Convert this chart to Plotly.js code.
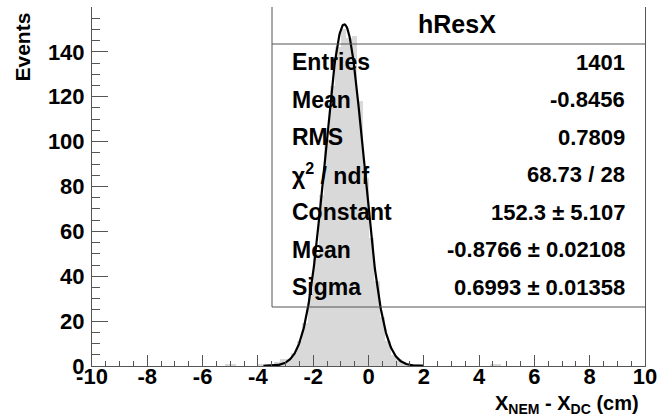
<!DOCTYPE html>
<html>
<head>
<meta charset="utf-8">
<script src="https://cdn.plot.ly/plotly-3.0.1.min.js"></script>
<style>html,body{margin:0;padding:0;background:#fff;}#chart{width:659px;height:419px;}</style>
</head>
<body>
<div id="chart"></div>
<script>
// Histogram bins (width 0.2 cm)
const binCenters = [-5.1, -4.9, -3.9, -3.7, -3.5, -3.3, -3.1, -2.9, -2.7, -2.5, -2.3, -2.1, -1.9, -1.7, -1.5, -1.3, -1.1, -0.9, -0.7, -0.5, -0.3, -0.1, 0.1, 0.3, 0.5, 0.7, 0.9, 1.1, 1.3, 1.5, 1.7, 1.9, 4.5, 4.7];
const binCounts  = [1, 1, 1, 1, 1, 2, 3, 3, 6, 11, 19, 32, 50, 76, 101, 125, 142, 150, 146, 147, 118, 84, 57, 38, 22, 11, 5, 3, 2, 1, 1, 1, 1, 1];
const binWidth = 0.2;

// Gaussian fit parameters shown in the stats box: Constant, Mean, Sigma
const fitParams = [152.3, -0.8766, 0.6993];
const fitRange = [-3.8, 2.0];

// Stats box contents
const statsTitle = "hResX";
const statsLabels = ["Entries", "Mean", "RMS", "χ<sup>2</sup> / ndf", "Constant", "Mean", "Sigma"];
const statsValues = ["1401", "-0.8456", "0.7809", "68.73 / 28", "152.3 ± 5.107", "-0.8766 ± 0.02108", "0.6993 ± 0.01358"];

// Axes
const xTicks = [-10, -8, -6, -4, -2, 0, 2, 4, 6, 8, 10];
const yTicks = [0, 20, 40, 60, 80, 100, 120, 140];

// fit curve sampled from the fit function
const fitX = [], fitY = [];
for (let i = 0; i <= 300; i++) {
  const x = fitRange[0] + (fitRange[1] - fitRange[0]) * i / 300;
  fitX.push(x);
  fitY.push(fitParams[0] * Math.exp(-0.5 * Math.pow((x - fitParams[1]) / fitParams[2], 2)));
}

const L = 92, R = 645, T = 7, B = 366, W = 659, H = 419;
const px = v => (v - L) / (R - L);
const py = v => (B - v) / (B - T);
const FONT = "Liberation Sans, Arial, sans-serif";

const traces = [
  { type: "bar", x: binCenters, y: binCounts, width: binWidth,
    marker: { color: "#d9d9d9", line: { width: 0 } }, hoverinfo: "skip" },
  { type: "scatter", mode: "lines", x: fitX, y: fitY,
    line: { color: "#000", width: 2.2 }, hoverinfo: "skip" }
];

const annotations = [];
annotations.push({ xref: "paper", yref: "paper", x: px(457), y: py(24), text: statsTitle,
  showarrow: false, xanchor: "center", yanchor: "middle",
  font: { family: FONT, size: 25, color: "#000", weight: "bold" } });
const rowsY = [62, 99.5, 137, 174.5, 212, 249.5, 287];
statsLabels.forEach((t, i) => {
  annotations.push({ xref: "paper", yref: "paper", x: px(290), y: py(rowsY[i]), text: t,
    showarrow: false, xanchor: "left", yanchor: "middle",
    font: { family: FONT, size: 23, color: "#000", weight: "bold" } });
  annotations.push({ xref: "paper", yref: "paper", x: px(627), y: py(rowsY[i]), text: statsValues[i],
    showarrow: false, xanchor: "right", yanchor: "middle",
    font: { family: FONT, size: 22, color: "#000", weight: "bold" } });
});
annotations.push({ xref: "paper", yref: "paper", x: px(641), y: py(405),
  text: "X<sub>NEM</sub> - X<sub>DC</sub> (cm)", showarrow: false, xanchor: "right", yanchor: "middle",
  font: { family: FONT, size: 20, color: "#000", weight: "bold" } });
annotations.push({ xref: "paper", yref: "paper", x: px(22), y: py(11), text: "Events",
  showarrow: false, textangle: -90, xanchor: "center", yanchor: "top",
  font: { family: FONT, size: 21, color: "#000", weight: "bold" } });

const lc = "#555";
const shapes = [
  { type: "line", xref: "paper", yref: "paper", x0: px(272), x1: px(272), y0: py(T), y1: py(307), line: { color: lc, width: 1 } },
  { type: "line", xref: "paper", yref: "paper", x0: px(272), x1: 1, y0: py(44), y1: py(44), line: { color: lc, width: 1 } },
  { type: "line", xref: "paper", yref: "paper", x0: px(272), x1: 1, y0: py(307), y1: py(307), line: { color: lc, width: 1 } }
];

const layout = {
  width: W, height: H,
  margin: { l: L, r: W - R, t: T, b: H - B, pad: 0 },
  paper_bgcolor: "#fff", plot_bgcolor: "rgba(0,0,0,0)",
  showlegend: false, bargap: 0,
  xaxis: { range: [-10, 10], tickmode: "array", tickvals: xTicks, ticktext: xTicks.map(String),
    ticks: "inside", ticklen: 11, tickwidth: 1, tickcolor: lc,
    minor: { dtick: 0.5, ticks: "inside", ticklen: 5, tickcolor: lc, tickwidth: 1 },
    showline: true, linecolor: lc, linewidth: 1, mirror: false, showgrid: false, zeroline: false,
    tickfont: { family: FONT, size: 22, color: "#000", weight: "bold" }, ticklabelstandoff: -9 },
  yaxis: { range: [0, 160], tickmode: "array", tickvals: yTicks, ticktext: yTicks.map(String),
    ticks: "inside", ticklen: 16, tickwidth: 1, tickcolor: lc,
    minor: { dtick: 5, ticks: "inside", ticklen: 8, tickcolor: lc, tickwidth: 1 },
    showline: true, linecolor: lc, linewidth: 1, mirror: true, showgrid: false, zeroline: false,
    tickfont: { family: FONT, size: 22, color: "#000", weight: "bold" }, ticklabelstandoff: 2 },
  annotations: annotations,
  shapes: shapes
};

Plotly.newPlot("chart", traces, layout, { staticPlot: true, displayModeBar: false });
</script>
</body>
</html>
